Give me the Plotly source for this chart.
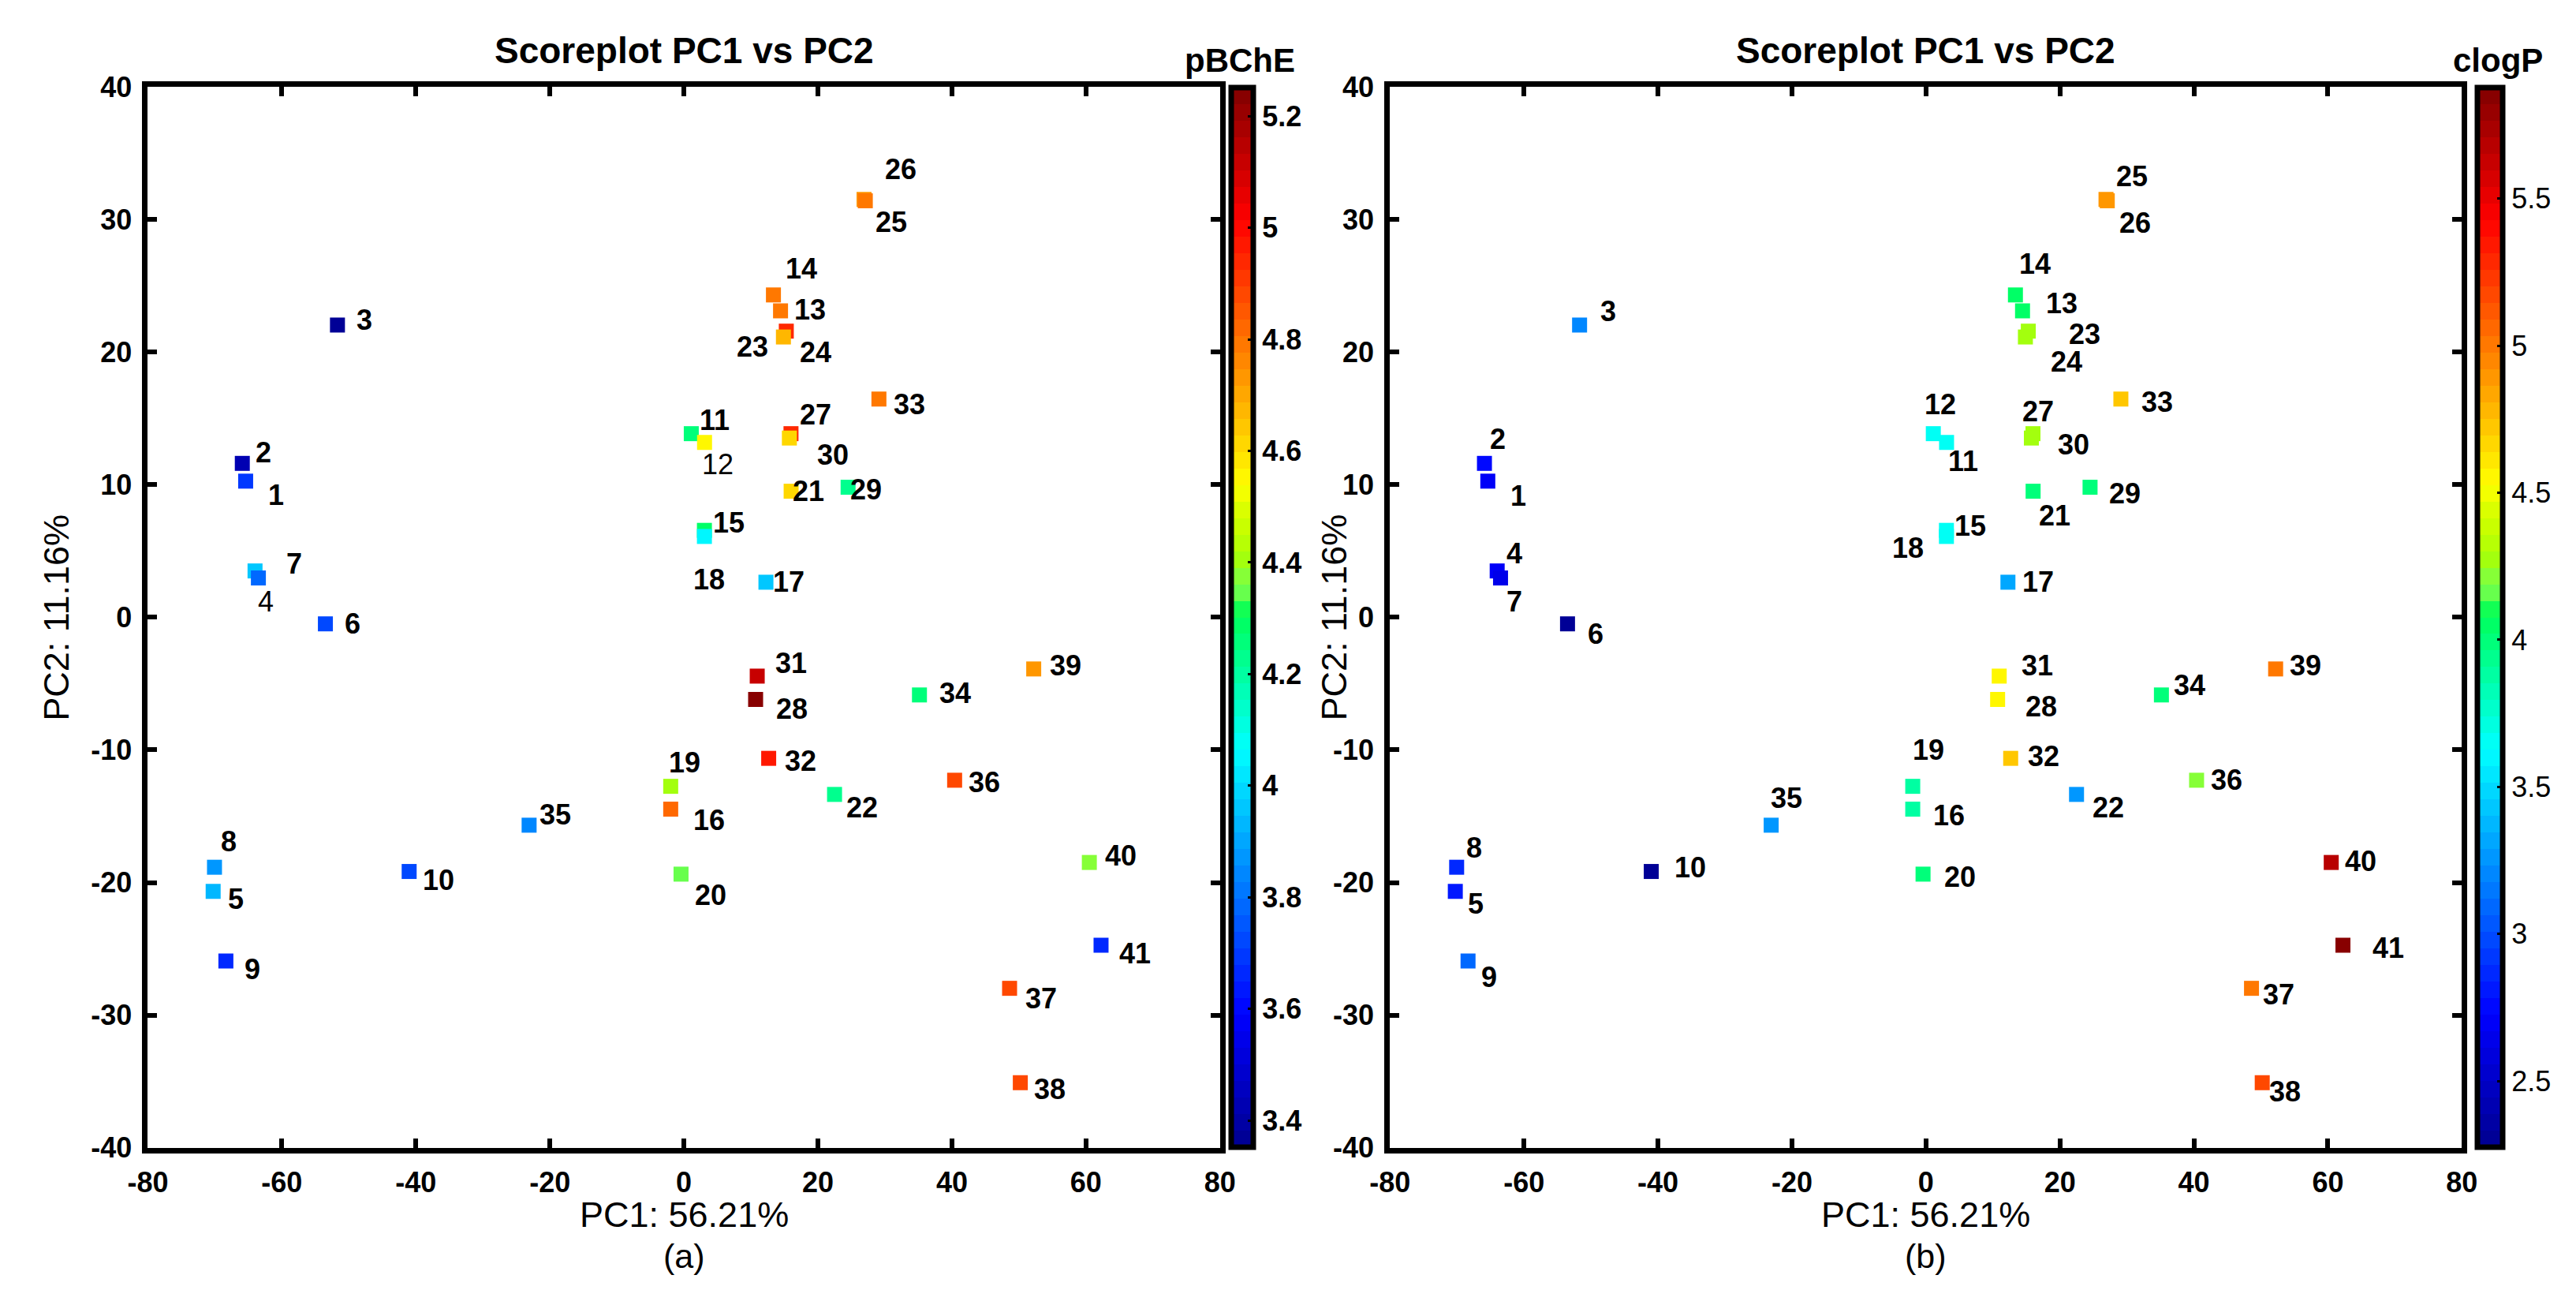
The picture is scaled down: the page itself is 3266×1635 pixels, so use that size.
import plotly.graph_objects as go

# ---------------- data ----------------
ids = [str(i) for i in range(1, 42)]

pc1 = [-65.4, -65.9, -51.7, -64.0, -70.25, -53.5, -63.5, -70.05, -68.35, -41.0,
       1.1, 3.08, 14.42, 13.36, 3.06, -1.97, 12.24, 3.06, -1.97, -0.43,
       16.0, 22.48, 15.28, 14.85, 26.88, 27.07, 15.98, 10.7, 24.5, 15.74,
       10.94, 12.65, 29.1, 35.15, -23.1, 40.4, 48.6, 50.2, 52.2, 60.5, 62.25]

pc2 = [10.26, 11.6, 22.03, 3.49, -20.67, -0.5, 2.96, -18.85, -25.92, -19.17,
       13.84, 13.18, 23.1, 24.3, 6.55, -14.47, 2.64, 6.09, -12.75, -19.37,
       9.5, -13.36, 21.57, 21.13, 31.5, 31.4, 13.84, -6.2, 9.8, 13.51,
       -4.44, -10.64, 16.45, -5.86, -15.68, -12.29, -27.98, -35.1, -3.9, -18.49, -24.73]

pbche = [3.68, 3.42, 3.352, 3.96, 3.94, 3.73, 3.78, 3.88, 3.65, 3.71,
         4.25, 4.56, 4.80, 4.78, 4.29, 4.83, 3.96, 4.06, 4.41, 4.34,
         4.61, 4.23, 4.95, 4.68, 4.72, 4.80, 4.95, 5.251, 4.23, 4.60,
         5.13, 4.96, 4.78, 4.25, 3.83, 4.89, 4.87, 4.89, 4.72, 4.37, 3.65]

clogp = [2.72, 2.75, 3.23, 2.70, 2.83, 2.30, 2.62, 2.89, 3.07, 2.275,
         3.63, 3.63, 4.05, 4.05, 3.63, 3.88, 3.31, 3.64, 3.88, 3.97,
         3.97, 3.28, 4.26, 4.26, 4.88, 4.88, 4.26, 4.54, 3.97, 4.26,
         4.54, 4.75, 4.75, 4.00, 3.28, 4.21, 4.98, 5.19, 4.98, 5.66, 5.877]

x_ticks = [-80, -60, -40, -20, 0, 20, 40, 60, 80]
y_ticks = [-40, -30, -20, -10, 0, 10, 20, 30, 40]
cb_a_ticks = [3.4, 3.6, 3.8, 4.0, 4.2, 4.4, 4.6, 4.8, 5.0, 5.2]
cb_b_ticks = [2.5, 3.0, 3.5, 4.0, 4.5, 5.0, 5.5]

# label offsets (label centre minus point), panel (a) and (b)
lab_a_dx = [4.52, 3.2, 4.07, 1.65, 3.39, 4.1, 5.4, 2.07, 3.92, 4.4,
            3.47, 2.02, 4.38, 4.14, 3.68, 5.75, 3.38, 0.72, 2.07, 4.39,
            2.58, 4.15, -5.03, 4.75, 4.12, 5.23, 3.67, 5.4, 2.67, 6.51,
            5.1, 4.75, 4.5, 5.35, 3.9, 4.4, 4.68, 4.38, 4.74, 4.7, 5.05]
lab_a_dy = [-1.06, 0.8, 0.37, -2.34, -0.58, 0.0, 1.1, 1.93, -0.65, -0.63,
            1.01, -1.66, 0.1, 1.97, 0.57, -0.84, 0.04, -3.22, 1.8, -1.61,
            0.0, -0.96, -1.17, -1.16, -1.7, 2.35, 1.45, -0.73, -0.2, -1.25,
            0.95, -0.2, -0.39, 0.16, 0.78, -0.15, -0.74, -0.47, 0.26, 0.53, -0.62]
lab_b_dx = [4.52, 2.02, 4.27, 2.62, 3.09, 4.23, 2.12, 2.67, 3.2, 5.83,
            4.45, -0.9, 5.83, 2.94, 3.52, 5.41, 4.48, -5.73, 2.33, 5.5,
            3.23, 4.74, 8.46, 6.17, 3.82, 4.1, 0.71, 6.46, 5.24, 6.26,
            5.71, 4.95, 5.4, 4.21, 2.26, 4.44, 4.1, 3.44, 4.47, 4.4, 6.72]
lab_b_dy = [-1.11, 1.85, 1.01, 1.31, -0.91, -0.75, -1.79, 1.45, -1.22, 0.32,
            -2.07, 2.85, 0.57, 2.36, 0.35, -0.46, 0.01, -0.88, 2.72, -0.19,
            -1.84, -1.0, -0.22, -1.85, 1.74, -1.64, 1.65, -0.53, -0.46, -0.52,
            0.77, 0.15, -0.25, 0.73, 2.03, 0.0, -0.47, -0.65, 0.23, 0.11, -0.23]
regular_labels_a = ["4", "12"]

# ---------------- styling ----------------
W, H = 3266, 1635
FONT = "Liberation Sans"


def jet_like(t):
    st = [0.0, 0.125, 0.375, 0.447, 0.505, 0.52, 0.536, 0.552, 0.578, 0.6, 0.625, 0.875, 1.0]
    co = [(0, 0, 143), (0, 0, 255), (0, 255, 255), (0, 255, 160), (0, 255, 85), (96, 255, 80),
          (128, 255, 64), (160, 255, 16), (192, 255, 0), (216, 255, 0), (255, 255, 0),
          (255, 0, 0), (128, 0, 0)]
    t = min(max(t, 0.0), 1.0)
    for i in range(len(st) - 1):
        if st[i] <= t <= st[i + 1]:
            f = (t - st[i]) / (st[i + 1] - st[i])
            c = [round(co[i][k] + f * (co[i + 1][k] - co[i][k])) for k in range(3)]
            return "rgb(%d,%d,%d)" % tuple(c)
    return "rgb(128,0,0)"


def banded_scale(n=64):
    cs = []
    for i in range(n):
        c = jet_like((i + 0.5) / n)
        cs.append([i / n, c])
        cs.append([(i + 1) / n, c])
    return cs


CS = banded_scale(64)

ydom = [1 - 1463.4 / H, 1 - 84 / H]
xdom_a = [155.6 / W, 1534.4 / W]
xdom_b = [1753 / W, 3131.4 / W]
cb_len = (1463 - 85) / H
cb_y = 1 - 774 / H


def colorbar(xpos, thick, ticks, bold):
    return dict(
        x=xpos, xanchor="left", xpad=0, y=cb_y, yanchor="middle", ypad=0,
        len=cb_len, lenmode="fraction", thickness=thick, thicknessmode="pixels",
        outlinewidth=7, outlinecolor="black", borderwidth=0,
        tickvals=ticks, ticktext=[f"{v:g}" for v in ticks],
        ticks="inside", ticklen=10, tickwidth=3, tickcolor="black",
        tickfont=dict(family=FONT, size=36, color="black", weight="bold" if bold else "normal"),
    )


fig = go.Figure()
fig.add_trace(go.Scatter(
    x=pc1, y=pc2, mode="markers", xaxis="x", yaxis="y", showlegend=False, hoverinfo="skip",
    marker=dict(symbol="square", size=19, color=pbche, colorscale=CS,
                cmin=min(pbche), cmax=max(pbche), line=dict(width=0),
                showscale=True, colorbar=colorbar(1549 / W, 28, cb_a_ticks, True)),
))
fig.add_trace(go.Scatter(
    x=pc1, y=pc2, mode="markers", xaxis="x2", yaxis="y2", showlegend=False, hoverinfo="skip",
    marker=dict(symbol="square", size=19, color=clogp, colorscale=CS,
                cmin=min(clogp), cmax=max(clogp), line=dict(width=0),
                showscale=True, colorbar=colorbar(3151 / W, 32, cb_b_ticks, False)),
))

axis_common = dict(
    showline=True, linewidth=7, linecolor="black", mirror="allticks",
    ticks="inside", ticklen=12, tickwidth=6, tickcolor="black",
    showgrid=False, zeroline=False, fixedrange=True,
    tickfont=dict(family=FONT, size=36, color="black", weight="bold"),
)
xa = dict(axis_common, range=[-80, 80], tickvals=x_ticks, ticktext=[str(v) for v in x_ticks],
          ticklabelstandoff=6)
ya = dict(axis_common, range=[-40, 40], tickvals=y_ticks, ticktext=[str(v) for v in y_ticks],
          ticklabelstandoff=6)

fig.update_layout(
    width=W, height=H, autosize=False,
    margin=dict(l=0, r=0, t=0, b=0),
    paper_bgcolor="white", plot_bgcolor="white",
    xaxis=dict(xa, domain=xdom_a, anchor="y"),
    yaxis=dict(ya, domain=ydom, anchor="x"),
    xaxis2=dict(xa, domain=xdom_b, anchor="y2"),
    yaxis2=dict(ya, domain=ydom, anchor="x2"),
)

ann = []
for k in range(len(ids)):
    ann.append(dict(
        x=pc1[k] + lab_a_dx[k], y=pc2[k] + lab_a_dy[k], xref="x", yref="y",
        text=ids[k], showarrow=False, xanchor="center", yanchor="middle",
        font=dict(family=FONT, size=36, color="black",
                  weight="normal" if ids[k] in regular_labels_a else "bold")))
    ann.append(dict(
        x=pc1[k] + lab_b_dx[k], y=pc2[k] + lab_b_dy[k], xref="x2", yref="y2",
        text=ids[k], showarrow=False, xanchor="center", yanchor="middle",
        font=dict(family=FONT, size=36, color="black", weight="bold")))

for xr, yr, sub, ylx in (("x", "y", "(a)", 38 / W), ("x2", "y2", "(b)", 1681 / W)):
    ann.append(dict(x=0.5, y=1 - 37 / H, xref=xr + " domain", yref="paper",
                    text="Scoreplot PC1 vs PC2", showarrow=False,
                    xanchor="center", yanchor="middle",
                    font=dict(family=FONT, size=46, color="black", weight="bold")))
    ann.append(dict(x=0.5, y=1 - 1550 / H, xref=xr + " domain", yref="paper",
                    text="PC1: 56.21%", showarrow=False, xanchor="center", yanchor="middle",
                    font=dict(family=FONT, size=45, color="black")))
    ann.append(dict(x=0.5, y=1 - 1604 / H, xref=xr + " domain", yref="paper",
                    text=sub, showarrow=False, xanchor="center", yanchor="middle",
                    font=dict(family=FONT, size=43, color="black")))
    ann.append(dict(x=ylx, y=0.5, xref="paper", yref=yr + " domain",
                    text="PC2: 11.16%", showarrow=False, textangle=-90,
                    xanchor="center", yanchor="middle",
                    font=dict(family=FONT, size=45, color="black")))

ann.append(dict(x=1560 / W, y=1 - 50 / H, xref="paper", yref="paper", text="pBChE",
                showarrow=False, xanchor="center", yanchor="middle",
                font=dict(family=FONT, size=42, color="black", weight="bold")))
ann.append(dict(x=3178 / W, y=1 - 50 / H, xref="paper", yref="paper", text="clogP",
                showarrow=False, xanchor="center", yanchor="middle",
                font=dict(family=FONT, size=42, color="black", weight="bold")))

fig.update_layout(annotations=ann)
fig.write_html("out.html")
